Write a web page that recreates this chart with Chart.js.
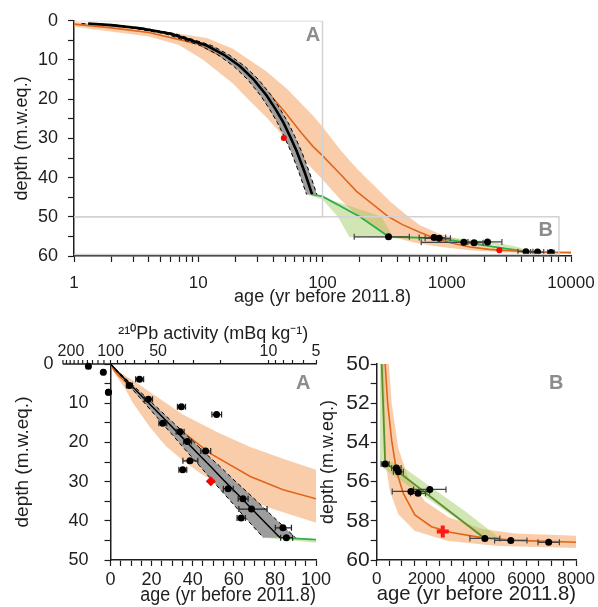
<!DOCTYPE html>
<html lang="en">
<head>
<meta charset="UTF-8">
<title>Age-depth model</title>
<script src="https://cdn.jsdelivr.net/npm/chart.js"></script>
<style>
  body { margin: 0; background: #fff; }
  #wrap { position: relative; width: 598px; height: 607px; }
  .panel { position: absolute; }
</style>
</head>
<body>
<div id="wrap">
  <div class="panel" style="left:0;top:0;width:598px;height:310px"><canvas id="overview"></canvas></div>
  <div class="panel" style="left:0;top:310px;width:340px;height:297px"><canvas id="zoomA"></canvas></div>
  <div class="panel" style="left:312px;top:310px;width:286px;height:297px"><canvas id="zoomB"></canvas></div>
</div>
<script>
// ---- values (age in yr before 2011.8, depth in m w.eq.) ----

// 210Pb (CIC) model: line and uncertainty band
const cicAge     = [0, 1.3, 2, 3.4, 6, 11.7, 16, 21.7, 28, 35.6, 42, 48.5, 55, 62.0, 72, 82.5];
const cicDepth   = [0, 0.7, 1.1, 1.9, 3.3, 6.3, 8.6, 11.6, 15.0, 19.1, 22.6, 26.0, 29.6, 33.3, 38.7, 44.3];
const cicAgeLow  = [0, 1.15, 1.8, 3.0, 5.4, 10.4, 14.3, 19.3, 25.0, 31.8, 37.6, 43.4, 49.3, 55.6, 64.7, 74.4];
const cicAgeHigh = [0, 1.42, 2.2, 3.7, 6.5, 12.8, 17.5, 23.7, 30.6, 38.9, 45.8, 53.0, 60.1, 67.8, 78.6, 90.0];

// 210Pb activity samples (mBq/kg)
const pbActivity = [138, 111, 103, 65.5, 76, 57.6, 35.6, 21.3, 46.7, 36.3, 32.6, 25.0, 31.4, 34.9, 18.0, 14.5, 12.8, 14.9, 8.1, 7.7];
const pbDepth    = [0.6, 2.1, 7.2, 3.9, 5.5, 9.0, 10.9, 12.9, 15.1, 17.3, 19.8, 22.2, 24.7, 27.0, 31.8, 34.4, 37.0, 39.3, 41.8, 44.3];
const pbError    = [4, 2.5, 2.5, 3.8, 3.3, 3.4, 2.1, 1.5, 2.7, 2.1, 1.9, 1.8, 3.4, 2.0, 1.3, 1.05, 2.6, 0.9, 0.95, 0.67];

// 14C dated layers
const c14Age   = [340, 790, 870, 1373, 1660, 2130, 4340, 5380, 6900];
const c14Depth = [55.1, 55.3, 55.5, 56.5, 56.6, 56.4, 58.9, 59.0, 59.1];
const c14Error = [160, 190, 200, 750, 300, 650, 600, 650, 430];

// red reference horizons
const csAge = [48.8],  csDepth = [29.9];
const refAge = [2650], refDepth = [58.55];

// green model (line and band)
const greenAge      = [82.5, 100, 200, 340, 860, 4340];
const greenDepth    = [44.3, 44.8, 50.0, 55.05, 55.5, 58.9];
const greenUpAge    = [74.4, 82.5, 140, 300, 365, 1000, 2200, 3533, 4900];
const greenUpDepth  = [44.3, 44.3, 46.5, 50.0, 54.9, 55.2, 56.3, 57.5, 58.85];
const greenLowAge   = [74.4, 100, 133, 165, 733, 2200, 3800, 4333, 4900];
const greenLowDepth = [44.3, 45.6, 50.0, 55.2, 55.75, 57.0, 58.45, 59.0, 58.95];

// orange (flow) model (line and band)
const orangeAge      = [0, 1, 2, 4, 10, 20, 30, 48.5, 68, 84, 100, 140, 188, 340, 440, 600, 800, 1067, 1533, 2200, 3000, 4200, 5533, 8267, 10000];
const orangeDepth    = [0, 0.85, 1.8, 3.0, 6.0, 11.0, 15.2, 22.8, 28.7, 32.1, 34.4, 39.2, 43.5, 50.0, 52.0, 53.9, 55.5, 56.6, 57.7, 58.3, 58.6, 58.86, 59.0, 59.1, 59.15];
const orangeUpAge    = [0, 1, 4, 11.7, 19, 35, 52, 68, 84, 100, 139, 188, 350, 493, 600, 867, 1267, 1933, 2867, 4200, 5533, 8267, 10000];
const orangeUpDepth  = [0, 0.3, 2.0, 4.4, 7.1, 12.8, 17.4, 21.2, 24.2, 27.0, 32.9, 37.6, 46.1, 50.0, 52.0, 54.3, 55.8, 57.0, 57.8, 58.4, 58.65, 58.77, 58.8];
const orangeLowAge   = [0, 1, 4, 7, 11, 19, 27, 35, 44, 60, 76, 100, 139, 188, 267, 360, 533, 867, 1533, 2867, 4867, 8267, 10000];
const orangeLowDepth = [0, 1.5, 4.0, 6.2, 10.0, 16.0, 21.0, 24.5, 28.0, 32.8, 36.5, 40.5, 45.6, 49.5, 52.9, 55.1, 56.5, 57.67, 58.52, 59.03, 59.28, 59.4, 59.45];

// zoom boxes drawn on the overview
const boxAAge = [1, 100, 100, 1],    boxADepth = [0, 0, 50, 50];
const boxBAge = [1, 8000, 8000, 1],  boxBDepth = [50, 50, 59.6, 59.6];

// tick positions
const logTicks = [];
for (let e = 0; e < 4; e++) for (let m = 1; m < 10; m++) logTicks.push(m * Math.pow(10, e));
logTicks.push(10000);
const pbTicks = [5, 6, 7, 8, 9, 10, 20, 30, 40, 50, 60, 70, 80, 90, 100];
const pbExtraTicks = [110, 120, 130, 140, 150, 160, 170, 180, 190, 200];

// ---- styling ----
const INK = '#1e1e1e';
const OR_LINE = '#e0661c', OR_BAND = 'rgba(246,164,100,0.55)';
const GR_BAND = 'rgba(155,199,88,0.45)';
const GRAY = '#9d9d9d';
Chart.defaults.font.family = '"Liberation Sans", Arial, sans-serif';
Chart.defaults.color = INK;

function P(ages, depths, log) {
  const out = [];
  for (let i = 0; i < ages.length; i++) {
    if (!log || ages[i] > 0) out.push({ x: ages[i], y: depths[i] });
  }
  return out;
}

function band(upA, upD, lowA, lowD, color, order, log) {
  return [
    { data: P(upA, upD, log), fill: '+1', backgroundColor: color, borderWidth: 0, pointRadius: 0, order: order },
    { data: P(lowA, lowD, log), fill: false, borderWidth: 0, pointRadius: 0, order: order }
  ];
}

function line(ages, depths, color, width, order, log, dash) {
  return { data: P(ages, depths, log), borderColor: color, borderWidth: width, borderDash: dash || [],
           pointRadius: 0, fill: false, order: order };
}

function dots(ages, depths, extra, log) {
  return Object.assign({ data: P(ages, depths, log), showLine: false, pointRadius: 3.5,
    pointBackgroundColor: '#000', pointBorderWidth: 0, order: 3 }, extra);
}

function modelSets(log, greenColor, blackWidth) {
  const lowEdgeAge = cicAgeLow.concat([cicAgeHigh[cicAgeHigh.length - 1]]);
  const lowEdgeDepth = cicDepth.concat([cicDepth[cicDepth.length - 1]]);
  return [
    ...band(orangeUpAge, orangeUpDepth, orangeLowAge, orangeLowDepth, OR_BAND, 10, log),
    ...band(greenUpAge, greenUpDepth, greenLowAge, greenLowDepth, GR_BAND, 9, log),
    ...band(cicAgeHigh, cicDepth, lowEdgeAge, lowEdgeDepth, GRAY, 7, log),
    line(orangeAge, orangeDepth, OR_LINE, 1.6, 8, log),
    line(greenAge, greenDepth, greenColor, 1.8, 8, log),
    line(cicAgeLow, cicDepth, '#000', 1, 6, log, [4, 3]),
    line(cicAgeHigh, cicDepth, '#000', 1, 6, log, [4, 3]),
    line(cicAge, cicDepth, '#000', blackWidth, 5, log)
  ];
}

function axis(o) {
  return {
    type: o.type || 'linear', axis: o.axis, position: o.position,
    min: o.min, max: o.max, reverse: !!o.reverse,
    afterFit: o.fit,
    afterBuildTicks: s => { s.ticks = o.tickValues.map(v => ({ value: v })); },
    grid: { drawOnChartArea: false, tickLength: o.tickLength || 6, tickColor: INK, tickWidth: 1.2 },
    border: { color: INK, width: 1.5 },
    ticks: { color: INK, autoSkip: false, maxRotation: 0, minRotation: 0, padding: o.pad,
             font: { size: o.fontSize }, callback: o.label },
    title: { display: true, text: o.title, color: INK, font: { size: o.titleSize }, padding: o.titlePad }
  };
}

// horizontal error bars under the points; points left of the plot area are drawn here too
const errorBars = {
  id: 'errorBars',
  beforeDatasetDraw(chart, args) {
    const ds = chart.data.datasets[args.index];
    if (!ds.xErr) return;
    const meta = args.meta, ctx = chart.ctx;
    ctx.save();
    ctx.strokeStyle = ds.errColor || '#333';
    ctx.lineWidth = 1.2;
    ds.data.forEach((p, i) => {
      const e = ds.xErr[i];
      const y = meta.yScale.getPixelForValue(p.y);
      const x1 = meta.xScale.getPixelForValue(p.x - e), x2 = meta.xScale.getPixelForValue(p.x + e);
      ctx.beginPath();
      ctx.moveTo(x1, y); ctx.lineTo(x2, y);
      ctx.moveTo(x1, y - 3); ctx.lineTo(x1, y + 3);
      ctx.moveTo(x2, y - 3); ctx.lineTo(x2, y + 3);
      ctx.stroke();
    });
    ctx.restore();
  },
  afterDatasetDraw(chart, args) {
    const ds = chart.data.datasets[args.index];
    if (!ds.drawOutside) return;
    const ctx = chart.ctx, left = chart.chartArea.left;
    ctx.save();
    ctx.fillStyle = '#000';
    args.meta.data.forEach(pt => {
      if (pt.x < left + 2) {
        ctx.beginPath();
        ctx.arc(pt.x, pt.y, ds.pointRadius, 0, Math.PI * 2);
        ctx.fill();
      }
    });
    ctx.restore();
  }
};

// panel letters placed in data coordinates
const letters = {
  id: 'letters',
  afterDatasetsDraw(chart, args, opts) {
    const ctx = chart.ctx, xs = chart.scales.x, ys = chart.scales.y;
    ctx.save();
    ctx.fillStyle = '#8c8c8c';
    ctx.font = 'bold 20px "Liberation Sans", Arial, sans-serif';
    ctx.textAlign = 'center';
    ctx.textBaseline = 'middle';
    (opts.items || []).forEach(it => ctx.fillText(it.text, xs.getPixelForValue(it.age), ys.getPixelForValue(it.depth)));
    ctx.restore();
  }
};

// the 210Pb axis continues left of the age origin
const pbExtension = {
  id: 'pbExtension',
  beforeDatasetsDraw(chart) {
    const pb = chart.scales.pb, top = chart.chartArea.top, ctx = chart.ctx;
    ctx.save();
    ctx.strokeStyle = INK;
    ctx.lineWidth = 1.5;
    ctx.beginPath();
    ctx.moveTo(pb.getPixelForValue(200), top);
    ctx.lineTo(pb.getPixelForValue(100), top);
    ctx.stroke();
    ctx.lineWidth = 1.2;
    pbExtraTicks.forEach(v => {
      const x = pb.getPixelForValue(v);
      ctx.beginPath(); ctx.moveTo(x, top); ctx.lineTo(x, top - 4); ctx.stroke();
    });
    ctx.fillStyle = INK;
    ctx.font = '16px "Liberation Sans", Arial, sans-serif';
    ctx.textAlign = 'center';
    ctx.textBaseline = 'middle';
    ctx.fillText('200', pb.getPixelForValue(200) + 8, top - 12.6);
    ctx.restore();
  }
};

const common = {
  responsive: true, maintainAspectRatio: false, animation: false,
  plugins: { legend: { display: false }, tooltip: { enabled: false } }
};

// ---- overview (log age) ----
new Chart(document.getElementById('overview'), {
  type: 'line',
  data: { datasets: [
    ...modelSets(true, '#2fae4e', 2.6),
    dots(c14Age, c14Depth, { xErr: c14Error, errColor: '#444' }, true),
    dots(csAge.concat(refAge), csDepth.concat(refDepth), { pointRadius: 3, pointBackgroundColor: '#ff0000', order: 1 }, true),
    line(boxAAge, boxADepth, '#d2d2d2', 1.5, 0, true),
    line(boxBAge, boxBDepth, '#d2d2d2', 1.5, 0, true)
  ] },
  options: Object.assign({}, common, {
    layout: { padding: { top: 20, right: 27, left: 0, bottom: 0 } },
    plugins: Object.assign({}, common.plugins, {
      letters: { items: [{ text: 'A', age: 84, depth: 3.8 }, { text: 'B', age: 6270, depth: 53.5 }] }
    }),
    scales: {
      x: axis({ type: 'logarithmic', position: 'bottom', min: 1, max: 10000, tickValues: logTicks,
        label: v => [1, 10, 100, 1000, 10000].includes(v) ? String(v) : '',
        fontSize: 17, pad: 11, title: 'age (yr before 2011.8)', titleSize: 18, titlePad: { top: 0, bottom: 2 },
        fit: s => { s.height = 54; s.paddingRight = 20; s.paddingLeft = 0; } }),
      y: axis({ position: 'left', min: 0, max: 60, reverse: true,
        tickValues: [0, 5, 10, 15, 20, 25, 30, 35, 40, 45, 50, 55, 60],
        label: v => v % 10 === 0 ? String(v) : '',
        fontSize: 18, pad: 10, title: 'depth (m.w.eq.)', titleSize: 18, titlePad: { top: 11, bottom: 0 },
        fit: s => { s.width = 74; } })
    }
  }),
  plugins: [errorBars, letters]
});

// ---- zoom A (linear age, 210Pb activity on top) ----
new Chart(document.getElementById('zoomA'), {
  type: 'line',
  data: { datasets: [
    ...modelSets(false, '#2fae4e', 1.5),
    dots(pbActivity, pbDepth, { xAxisID: 'pb', xErr: pbError, errColor: '#222', clip: false, drawOutside: true }, false),
    dots(csAge, csDepth, { pointStyle: 'rectRot', pointRadius: 5, pointBackgroundColor: '#ff0000', order: 1 }, false)
  ] },
  options: Object.assign({}, common, {
    layout: { padding: { top: 0, right: 24, left: 0, bottom: 0 } },
    plugins: Object.assign({}, common.plugins, {
      letters: { items: [{ text: 'A', age: 93.8, depth: 4.9 }] }
    }),
    scales: {
      x: axis({ position: 'bottom', min: 0, max: 100,
        tickValues: [0, 5, 10, 15, 20, 25, 30, 35, 40, 45, 50, 55, 60, 65, 70, 75, 80, 85, 90, 95, 100],
        label: v => v % 20 === 0 ? String(v) : '',
        fontSize: 18, pad: 3, title: '      age (yr before 2011.8)', titleSize: 20, titlePad: { top: 0, bottom: 0 },
        fit: s => { s.height = 47; } }),
      pb: axis({ type: 'logarithmic', axis: 'x', position: 'top', min: 5, max: 100, reverse: true,
        tickValues: pbTicks, tickLength: 4,
        label: v => [5, 10, 50, 100].includes(v) ? String(v) : '',
        fontSize: 16, pad: -1, title: '\u00B2\u00B9\u2070Pb activity (mBq kg\u207B\u00B9)', titleSize: 18,
        titlePad: { top: 13, bottom: 0 },
        fit: s => { s.height = 54; } }),
      y: axis({ position: 'left', min: 0, max: 50, reverse: true,
        tickValues: [0, 5, 10, 15, 20, 25, 30, 35, 40, 45, 50],
        label: v => v === 0 ? '0       ' : (v % 10 === 0 ? String(v) : ''),
        fontSize: 18, pad: 16, title: 'depth (m.w.eq.)', titleSize: 19, titlePad: { top: 11, bottom: 0 },
        fit: s => { s.width = 110.5; } })
    }
  }),
  plugins: [errorBars, letters, pbExtension]
});

// ---- zoom B (linear age, deep part) ----
new Chart(document.getElementById('zoomB'), {
  type: 'line',
  data: { datasets: [
    ...modelSets(false, '#5e8f2c', 1.5),
    dots(c14Age, c14Depth, { xErr: c14Error, errColor: '#444' }, false),
    dots(refAge, refDepth, { pointStyle: 'cross', pointRadius: 6, pointBorderWidth: 4, pointBorderColor: '#ff1a1a', order: 1 }, false)
  ] },
  options: Object.assign({}, common, {
    layout: { padding: { top: 54, right: 21.3, left: 0, bottom: 0 } },
    plugins: Object.assign({}, common.plugins, {
      letters: { items: [{ text: 'B', age: 7200, depth: 51.0 }] }
    }),
    scales: {
      x: axis({ position: 'bottom', min: 0, max: 8000,
        tickValues: [0, 500, 1000, 1500, 2000, 2500, 3000, 3500, 4000, 4500, 5000, 5500, 6000, 6500, 7000, 7500, 8000],
        label: v => v % 2000 === 0 ? String(v) : '',
        fontSize: 17, pad: 3, title: 'age (yr before 2011.8)', titleSize: 21, titlePad: { top: 0, bottom: 0 },
        fit: s => { s.height = 47; } }),
      y: axis({ position: 'left', min: 50, max: 60, reverse: true,
        tickValues: [50, 51, 52, 53, 54, 55, 56, 57, 58, 59, 60],
        label: v => v % 2 === 0 ? String(v) : '',
        fontSize: 21, pad: 1, title: 'depth (m.w.eq.)', titleSize: 18, titlePad: { top: 5, bottom: 0 },
        fit: s => { s.width = 64.7; } })
    }
  }),
  plugins: [errorBars, letters]
});
</script>
</body>
</html>
